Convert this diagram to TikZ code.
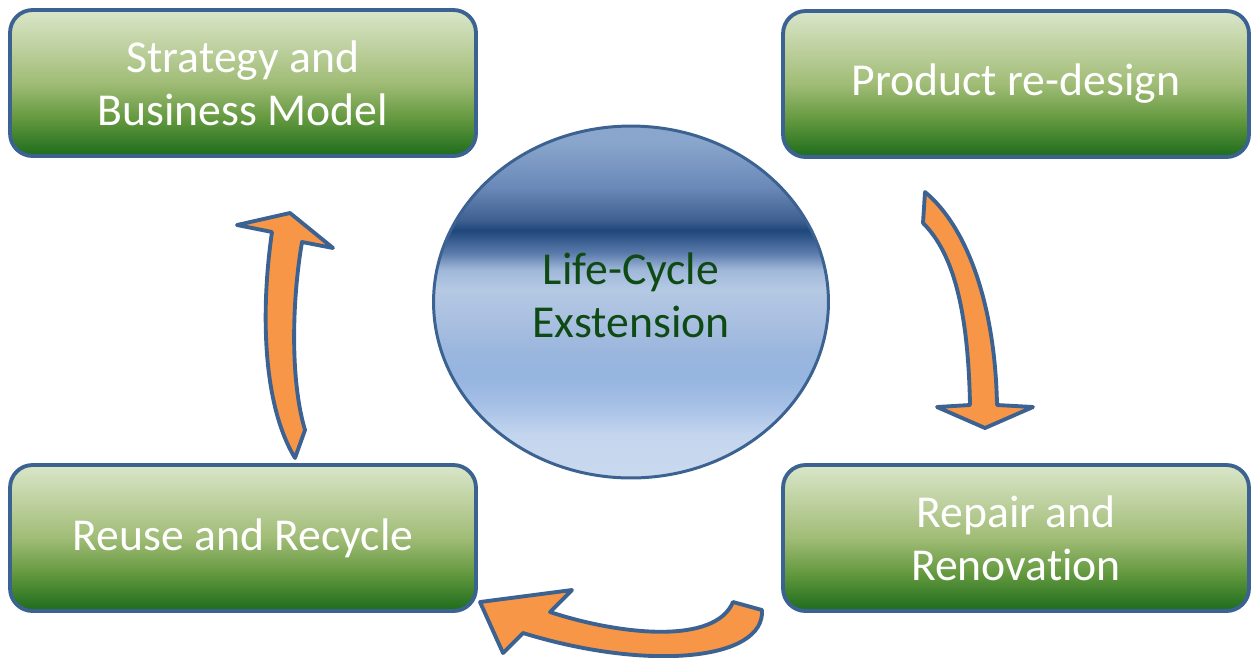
\documentclass[tikz,border=0pt]{standalone}
\usepackage{fontspec}
\setmainfont{Carlito}[Ligatures={NoCommon}]
\usepackage{tikz}
\usetikzlibrary{shapes.geometric}
\definecolor{edgeblue}{HTML}{3C6292}
\definecolor{arroworange}{HTML}{F79646}
\definecolor{darkgreentext}{HTML}{0F4A14}
\definecolor{ga}{HTML}{D9E6C9}
\definecolor{gb}{HTML}{BDD09E}
\definecolor{gc}{HTML}{A0BC76}
\definecolor{gd}{HTML}{64993F}
\definecolor{ge}{HTML}{1C6B1C}
\definecolor{ba}{HTML}{8AA6CC}
\definecolor{bb}{HTML}{6A89B8}
\definecolor{bc}{HTML}{3E5F90}
\definecolor{bd}{HTML}{1F477B}
\definecolor{be}{HTML}{5A7AAB}
\definecolor{bf}{HTML}{9FB7D9}
\definecolor{bg}{HTML}{B5C9E4}
\definecolor{bh}{HTML}{AAC0E0}
\definecolor{bi}{HTML}{9AB6DE}
\definecolor{bj}{HTML}{96B5E0}
\definecolor{bk}{HTML}{A6C0E6}
\definecolor{bl}{HTML}{C4D6EE}
\definecolor{bm}{HTML}{C8D8EE}
\pgfdeclareverticalshading{boxgreen}{100bp}{color(0bp)=(ge); color(25bp)=(ge); color(38bp)=(gd); color(50bp)=(gc); color(62bp)=(gb); color(75bp)=(ga); color(100bp)=(ga)}
\pgfdeclareverticalshading{hubblue}{100bp}{color(0bp)=(bm); color(26.4bp)=(bm); color(31.1bp)=(bl); color(35.3bp)=(bk); color(39.1bp)=(bj); color(42.9bp)=(bi); color(47.5bp)=(bh); color(51.8bp)=(bg); color(54.6bp)=(bf); color(57bp)=(be); color(60.2bp)=(bd); color(61.6bp)=(bc); color(66.3bp)=(bb); color(72.9bp)=(ba); color(100bp)=(ba)}
\tikzstyle{stage} = [rectangle, rounded corners=0.45cm, minimum width=9.32cm, minimum height=2.92cm, draw=edgeblue, line width=2.2pt, shading=boxgreen, text=white, align=center, font=\fontsize{26}{30}\selectfont]
\tikzstyle{hub} = [ellipse, minimum width=7.9cm, minimum height=7.04cm, inner sep=0pt, text depth=0.28cm, draw=edgeblue, line width=1.7pt, shading=hubblue, text=darkgreentext, align=center, font=\fontsize{26}{30}\selectfont]
\tikzstyle{bigarrow} = [fill=arroworange, draw=edgeblue, line width=2.2pt, line join=round]
\begin{document}
\begin{tikzpicture}[x=0.02cm, y=-0.02cm]
\useasboundingbox (0,0) rectangle (1253,657);
\node[stage] (strategy) at (243,83) {Strategy and\\Business Model};
\node[stage] (redesign) at (1016,84) {Product re-design};
\node[stage] (repair) at (1016,538) {Repair and\\Renovation};
\node[stage] (reuse) at (243,538) {Reuse and Recycle};
\node[hub] (lifecycle) at (631,302) {Life-Cycle\\Exstension};
\draw[bigarrow] (923,223) -- (925,192) .. controls (965,225) and (995,300) .. (997,405) -- (1033,407) -- (985,428) -- (937,407) -- (970,405) .. controls (968,300) and (950,250) .. (923,223) -- cycle;
\draw[bigarrow] (733,602) -- (762,610) .. controls (765,660) and (650,672) .. (523,633) -- (503,653) -- (480,602) -- (572,590) -- (550,612) .. controls (620,635) and (715,645) .. (733,602) -- cycle;
\draw[bigarrow] (295,458) -- (305,430) .. controls (290,380) and (292,300) .. (302,242) -- (333,248) -- (290,213) -- (237,225) -- (272,232) .. controls (262,300) and (260,400) .. (295,458) -- cycle;
\end{tikzpicture}
\end{document}
